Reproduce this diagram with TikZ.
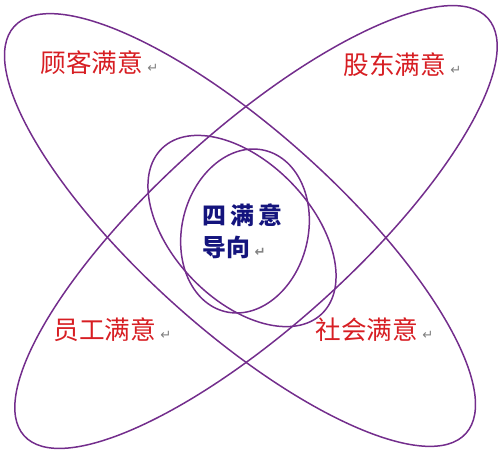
\documentclass[tikz,border=0pt]{standalone}
\usepackage{fontspec}
\usepackage{tikz}
\newfontfamily\cjk{Noto Sans CJK SC}
\newfontfamily\arrowfont{DejaVu Sans}
\definecolor{ringpurple}{RGB}{115,45,140}
\definecolor{aimred}{RGB}{215,30,35}
\definecolor{corenavy}{RGB}{20,20,125}
\newcommand{\pmark}{{\arrowfont\fontsize{7.5}{8}\selectfont\color{gray}\hspace{2.5pt}↵}}

\begin{document}
\begin{tikzpicture}[x=0.02cm, y=-0.02cm,
	ring/.style={draw=ringpurple, line width=0.85pt},
	aim/.style={anchor=west, inner sep=0pt, text=aimred, font=\cjk\fontsize{14.6}{16}\selectfont},
	core/.style={anchor=west, inner sep=0pt, text=corenavy, font=\cjk\bfseries\fontsize{13.6}{15}\selectfont}]
	\useasboundingbox (0,0) rectangle (500,451);

	% big petals
	\draw[ring, rotate around={-42:(240,230)}] (240,230) ellipse [x radius=304, y radius=99];
	\draw[ring, rotate around={42:(256,227)}] (256,227) ellipse [x radius=312, y radius=99];
	% inner rings
	\draw[ring, rotate around={-46:(242,231)}] (242,231) ellipse [x radius=115, y radius=69];
	\draw[ring, rotate around={76:(245,231)}] (245,231) ellipse [x radius=83, y radius=63];

	\node[aim] (customer) at (40, 63)   {顾客满意\pmark};
	\node[aim] (holder)   at (343, 65)  {股东满意\pmark};
	\node[aim] (staff)    at (53, 330)  {员工满意\pmark};
	\node[aim] (society)  at (315, 330) {社会满意\pmark};

	\node[core] (four)  at (202, 215) {四\hspace{2.3pt}满\hspace{2.3pt}意};
	\node[core] (guide) at (202, 247) {导向\pmark};
\end{tikzpicture}
\end{document}
